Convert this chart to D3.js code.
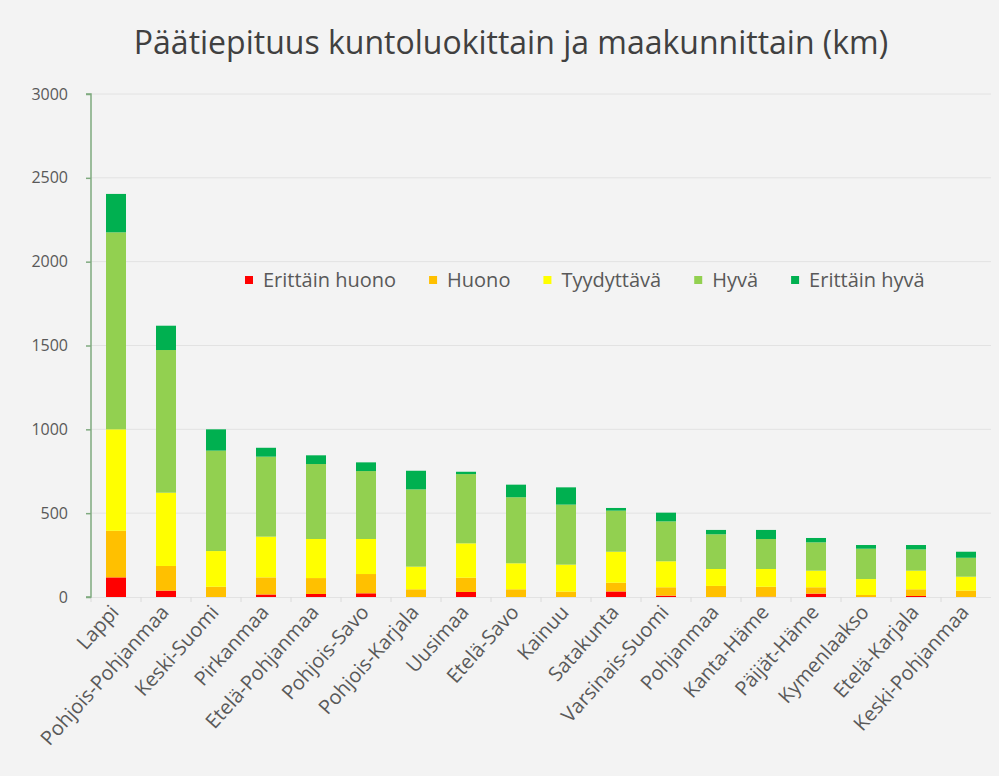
<!DOCTYPE html>
<html>
<head>
<meta charset="utf-8">
<script src="https://cdn.jsdelivr.net/npm/d3@7"></script>
<style>
  html, body { margin: 0; padding: 0; background: #f3f3f3; }
  svg { display: block; font-family: "Open Sans", "Liberation Sans", Arial, sans-serif; }
</style>
</head>
<body>
<svg id="chart" width="999" height="776"></svg>
<script>
const categories = ["Lappi","Pohjois-Pohjanmaa","Keski-Suomi","Pirkanmaa","Etelä-Pohjanmaa","Pohjois-Savo","Pohjois-Karjala","Uusimaa","Etelä-Savo","Kainuu","Satakunta","Varsinais-Suomi","Pohjanmaa","Kanta-Häme","Päijät-Häme","Kymenlaakso","Etelä-Karjala","Keski-Pohjanmaa"];
const seriesNames = ["Erittäin huono","Huono","Tyydyttävä","Hyvä","Erittäin hyvä"];
const erittainHuono = [117, 38, 0, 15, 18, 22, 0, 30, 0, 0, 33, 8, 0, 2, 20, 0, 6, 0];
const huono         = [278, 147, 61, 102, 95, 115, 46, 85, 46, 32, 52, 50, 66, 59, 38, 12, 40, 38];
const tyydyttava    = [605, 437, 213, 243, 233, 209, 135, 205, 155, 161, 185, 155, 101, 106, 99, 95, 111, 83];
const hyva          = [1175, 851, 599, 477, 447, 405, 461, 413, 394, 358, 245, 238, 207, 179, 169, 181, 127, 113];
const erittainHyva  = [229, 145, 127, 53, 52, 52, 111, 14, 75, 103, 16, 52, 26, 54, 26, 22, 26, 36];
const yTicks = [0, 500, 1000, 1500, 2000, 2500, 3000];
const colors = ["#ff0000", "#ffc000", "#ffff00", "#92d050", "#00b050"];
const title = "Päätiepituus kuntoluokittain ja maakunnittain (km)";

const seriesValues = [erittainHuono, huono, tyydyttava, hyva, erittainHyva];
const table = categories.map((c, i) => {
  const row = { cat: c };
  seriesNames.forEach((s, k) => row[s] = seriesValues[k][i]);
  return row;
});

const svg = d3.select("#chart");
const pLeft = 91, pRight = 991, pTop = 94, pBottom = 597;
const font = "Open Sans, Liberation Sans, Arial, sans-serif";

const x = d3.scaleBand().domain(categories).range([pLeft, pRight]).paddingInner(0.6).paddingOuter(0.3);
const y = d3.scaleLinear().domain([0, 3000]).range([pBottom, pTop]);

// gridlines
svg.append("g").selectAll("line").data(yTicks.filter(t => t > 0)).join("line")
  .attr("x1", pLeft).attr("x2", pRight)
  .attr("y1", d => y(d)).attr("y2", d => y(d))
  .attr("stroke", "#e2e2e2").attr("stroke-width", 1);

// baseline + category separators
svg.append("line").attr("x1", pLeft).attr("x2", pRight).attr("y1", pBottom + 0.5).attr("y2", pBottom + 0.5)
  .attr("stroke", "#e2e2e2");
svg.append("g").selectAll("line").data(categories).join("line")
  .attr("x1", d => x(d) - x.step() * 0.3).attr("x2", d => x(d) - x.step() * 0.3)
  .attr("y1", pBottom).attr("y2", pBottom + 5)
  .attr("stroke", "#dadada");

// stacked bars
const stack = d3.stack().keys(seriesNames)(table);
svg.append("g").selectAll("g").data(stack).join("g")
  .attr("fill", (d, i) => colors[i])
  .selectAll("rect").data(d => d).join("rect")
  .attr("x", d => x(d.data.cat))
  .attr("width", x.bandwidth())
  .attr("y", d => y(d[1]))
  .attr("height", d => y(d[0]) - y(d[1]));

// y axis
const yAxis = d3.axisLeft(y).tickValues(yTicks).tickSize(5).tickPadding(18).tickFormat(d3.format("d"));
const gy = svg.append("g").attr("transform", `translate(${pLeft},0)`).call(yAxis);
gy.select(".domain").attr("stroke", "#7faa7f").attr("stroke-width", 1.5).attr("d", `M-5,${pTop}H0V${pBottom}H-5`);
gy.selectAll(".tick line").attr("stroke", "#7faa7f").attr("stroke-width", 1.5);
gy.selectAll(".tick text").attr("fill", "#595959").attr("font-size", 16).attr("font-family", font);

// x labels
const xAxis = d3.axisBottom(x).tickSize(0).tickPadding(0);
const gx = svg.append("g").attr("transform", `translate(0,${pBottom})`).call(xAxis);
gx.select(".domain").remove();
gx.selectAll(".tick text")
  .attr("fill", "#595959").attr("font-size", 20).attr("font-family", font)
  .attr("text-anchor", "end").attr("dy", 0).attr("y", 0)
  .attr("transform", "translate(4,16) rotate(-48)");

// title
svg.append("text").attr("x", 511).attr("y", 54).attr("text-anchor", "middle")
  .attr("fill", "#404040").attr("font-size", 32).text(title);

// legend
const lg = svg.append("g").attr("transform", "translate(245,280)");
let lx = 0;
seriesNames.forEach((s, i) => {
  const g = lg.append("g").attr("transform", `translate(${lx},0)`);
  g.append("rect").attr("x", 0).attr("y", -4).attr("width", 8).attr("height", 8).attr("fill", colors[i]);
  const t = g.append("text").attr("x", 18).attr("y", 7).attr("fill", "#595959").attr("font-size", 20).text(s);
  lx += 18 + t.node().getComputedTextLength() + 33;
});
</script>
</body>
</html>
